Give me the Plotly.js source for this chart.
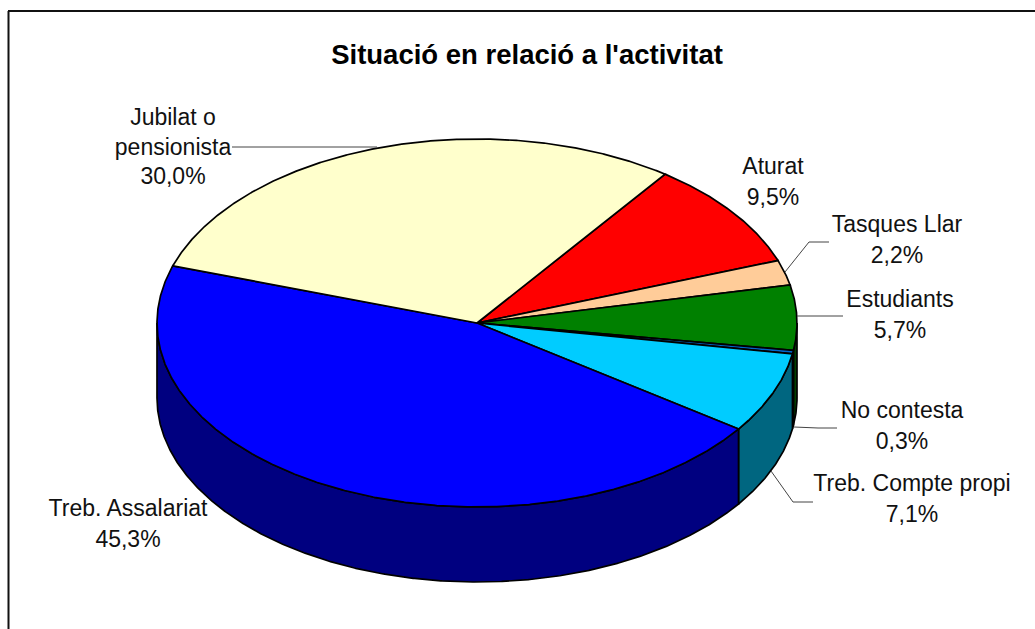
<!DOCTYPE html>
<html>
<head>
<meta charset="utf-8">
<script src="https://cdn.plot.ly/plotly-3.0.1.min.js"></script>
<style>html,body{margin:0;padding:0;background:#fff;overflow:hidden}</style>
</head>
<body>
<div id="chart" style="width:1035px;height:629px"></div>
<script>
// Data, clockwise from the top-right slice
const categories = ["Aturat", "Tasques Llar", "Estudiants", "No contesta", "Treb. Compte propi", "Treb. Assalariat", "Jubilat o pensionista"];
const values = [9.5, 2.2, 5.7, 0.3, 7.1, 45.3, 30.0];
const topColors = ["#FF0000", "#FFCC99", "#008000", "#0066CC", "#00CCFF", "#0000FF", "#FFFFCC"];
const sideColors = ["#800000", "#80664D", "#004000", "#003366", "#006680", "#000080", "#808066"];
const chartTitle = "Situació en relació a l'activitat";

// Label placement (one row per text line is built below)
const labelLines = [["Aturat"], ["Tasques Llar"], ["Estudiants"], ["No contesta"], ["Treb. Compte propi"], ["Treb. Assalariat"], ["Jubilat o"," pensionista"]];
const labelX = [773, 897, 900, 902, 912, 128, 173];
const labelTopY = [168.5, 226.5, 301.5, 412.5, 485.5, 510.5, 119.5];
const lineStep = 30.3;

// Leader lines
const leaders = [
  [[829, 242], [809, 242], [785, 272]],
  [[843, 316], [797, 316]],
  [[837, 428], [818, 428], [794, 427]],
  [[813, 502], [793, 502], [771, 471]],
  [[232, 147], [377, 147]]
];

// Pie projection
const cx = 477, cy = 323, rx = 320, ry = 184, depth = 75, startDeg = 36.0;
const total = values.reduce((a, b) => a + b, 0);
const rad = d => d * Math.PI / 180;
const px = d => cx + rx * Math.sin(rad(d));
const py = d => cy - ry * Math.cos(rad(d));

const traces = [];
let a = startDeg;
const tops = [];
values.forEach((v, i) => {
  const b = a + v / total * 360;
  // Side wall: only the part facing the viewer (90..270 degrees, mod 360)
  const lo = Math.max(a, 90), hi = Math.min(b, 270);
  if (hi > lo) {
    const xs = [], ys = [];
    for (let d = lo; d < hi; d += 0.25) { xs.push(px(d)); ys.push(py(d)); }
    xs.push(px(hi)); ys.push(py(hi));
    for (let d = hi; d > lo; d -= 0.25) { xs.push(px(d)); ys.push(py(d) + depth); }
    xs.push(px(lo)); ys.push(py(lo) + depth);
    xs.push(xs[0]); ys.push(ys[0]);
    traces.push({type: "scatter", mode: "lines", x: xs, y: ys, fill: "toself", fillcolor: sideColors[i],
      line: {color: "#000", width: 1.7}, hoverinfo: "skip"});
  }
  const xs = [cx], ys = [cy];
  for (let d = a; d < b; d += 0.25) { xs.push(px(d)); ys.push(py(d)); }
  xs.push(px(b), cx); ys.push(py(b), cy);
  tops.push({type: "scatter", mode: "lines", x: xs, y: ys, fill: "toself", fillcolor: topColors[i],
    line: {color: "#000", width: 1.7}, name: categories[i], hoverinfo: "name"});
  a = b;
});
traces.push(...tops);

leaders.forEach(l => traces.push({type: "scatter", mode: "lines", x: l.map(p => p[0]), y: l.map(p => p[1]),
  line: {color: "#444", width: 1}, hoverinfo: "skip"}));

const tx = [], ty = [], tt = [];
values.forEach((v, i) => {
  const lines = labelLines[i].map(s => s.trim()).concat([v.toFixed(1).replace(".", ",") + "%"]);
  lines.forEach((t, k) => { tx.push(labelX[i]); ty.push(labelTopY[i] + k * (i === 6 ? 29.5 : lineStep)); tt.push(t); });
});
traces.push({type: "scatter", mode: "text", x: tx, y: ty, text: tt, textposition: "middle center",
  textfont: {family: "Liberation Sans, Arial, sans-serif", size: 23, color: "#111"}, hoverinfo: "skip"});

const layout = {
  width: 1035, height: 629, margin: {l: 0, r: 0, t: 0, b: 0},
  paper_bgcolor: "#fff", plot_bgcolor: "#fff", showlegend: false,
  title: {text: "<b>" + chartTitle + "</b>", x: 527 / 1035, y: 1 - 54 / 629, xanchor: "center", yanchor: "middle",
    font: {family: "Liberation Sans, Arial, sans-serif", size: 27.5, color: "#000"}},
  xaxis: {visible: false, range: [0, 1035], fixedrange: true},
  yaxis: {visible: false, range: [629, 0], fixedrange: true},
  shapes: [
    {type: "line", xref: "x", yref: "y", x0: 8.5, x1: 8.5, y0: 11, y1: 629, line: {color: "#111", width: 2}},
    {type: "line", xref: "x", yref: "y", x0: 8, x1: 1035, y0: 11, y1: 11, line: {color: "#111", width: 2}}
  ]
};
Plotly.newPlot("chart", traces, layout, {displayModeBar: false, staticPlot: true});
</script>
</body>
</html>
